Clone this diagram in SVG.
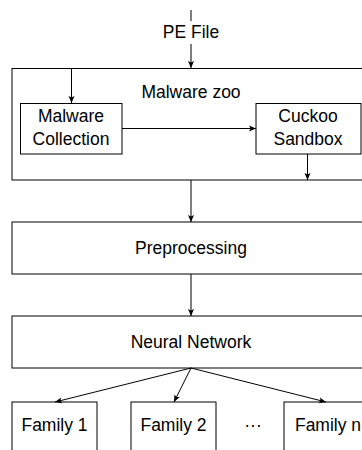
<svg xmlns="http://www.w3.org/2000/svg" width="362" height="450" viewBox="0 0 362 450">
<defs>
<marker id="ah" markerWidth="8" markerHeight="8" refX="7" refY="4" orient="auto" markerUnits="userSpaceOnUse">
<path d="M0,1 L7,4 L0,7 L1.5,4 Z" fill="#000"/>
</marker>
<style>
rect{fill:#fff;stroke:#000;stroke-width:1}
text{font-family:"Liberation Sans",Arial,Helvetica,sans-serif;font-size:17.5px;fill:#000;text-anchor:middle}
.c{stroke:#000;stroke-width:1;fill:none}
.a{marker-end:url(#ah)}
</style>
</defs>
<rect x="0" y="0" width="362" height="450" style="stroke:none;fill:#fff"/>
<g id="zoo">
<rect x="12" y="68.5" width="360" height="111.5"/>
<text x="191" y="98">Malware zoo</text>
</g>
<g id="pe">
<text x="191" y="38">PE File</text>
</g>
<g id="collection">
<rect x="20.5" y="103.5" width="101.5" height="50.5"/>
<text x="71" y="122">Malware</text>
<text x="71" y="145">Collection</text>
</g>
<g id="cuckoo">
<rect x="256" y="103.5" width="105" height="50.5"/>
<text x="308" y="122">Cuckoo</text>
<text x="308" y="145">Sandbox</text>
</g>
<g id="preprocessing">
<rect x="12" y="222" width="360" height="52"/>
<text x="191" y="254">Preprocessing</text>
</g>
<g id="nn">
<rect x="12" y="316" width="360" height="52"/>
<text x="191" y="348">Neural Network</text>
</g>
<g id="family1">
<rect x="12" y="402" width="85" height="60"/>
<text x="54.5" y="431">Family 1</text>
</g>
<g id="family2">
<rect x="131" y="402" width="85" height="60"/>
<text x="173.5" y="431">Family 2</text>
</g>
<g id="dots">
<text x="253" y="431">···</text>
</g>
<g id="familyn">
<rect x="284" y="402" width="90" height="60"/>
<text x="328" y="431">Family n</text>
</g>
<g id="connectors">
<line class="c" x1="191" y1="10" x2="191" y2="21"/>
<line class="c a" x1="191" y1="44" x2="191" y2="68"/>
<line class="c a" x1="71.5" y1="68.5" x2="71.5" y2="103"/>
<line class="c a" x1="122" y1="128.5" x2="256" y2="128.5"/>
<line class="c a" x1="307.5" y1="154" x2="307.5" y2="180"/>
<line class="c a" x1="191" y1="180" x2="191" y2="222"/>
<line class="c a" x1="191" y1="274" x2="191" y2="316"/>
<line class="c a" x1="191" y1="368" x2="55" y2="402"/>
<line class="c a" x1="191" y1="368" x2="174" y2="402"/>
<line class="c a" x1="191" y1="368" x2="326" y2="402"/>
</g>
</svg>
